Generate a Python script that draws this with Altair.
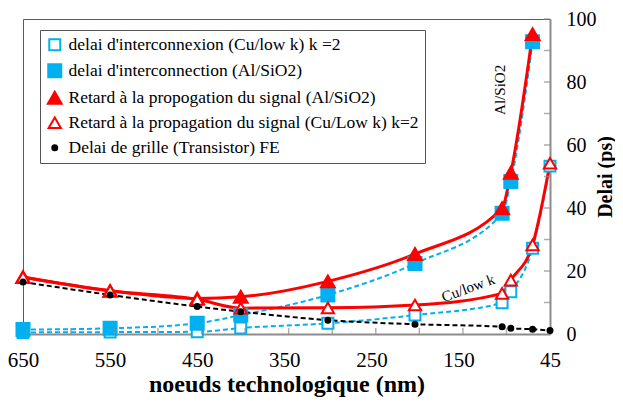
import altair as alt
import pandas as pd

FONT = "Liberation Serif"

series_names = [
    "delai d'interconnexion (Cu/low k) k =2",
    "delai d'interconnection (Al/SiO2)",
    "Retard à la propogation du signal (Al/SiO2)",
    "Retard à la propagation du signal (Cu/Low k) k=2",
    "Delai de grille (Transistor) FE",
]

x_cu = [650, 550, 450, 400, 300, 200, 100, 90, 65, 45]
x_al = [650, 550, 450, 400, 300, 200, 100, 90, 65]

inter_cu = [0.5, 0.6, 0.7, 1.9, 3.4, 6.0, 9.9, 13.4, 27.2, 53.3]
inter_al = [1.4, 1.8, 3.4, 6.0, 12.4, 22.4, 38.3, 48.4, 92.8]
retard_al = [18.1, 13.7, 11.3, 11.8, 16.7, 25.4, 39.9, 51.2, 95.2]
retard_cu = [18.0, 13.7, 11.0, 8.2, 8.3, 9.2, 12.9, 17.1, 28.3, 54.2]
grille = [16.5, 12.4, 8.7, 7.1, 4.4, 3.1, 2.3, 1.8, 1.5, 1.1]

x_labels = [650, 550, 450, 350, 250, 150, 45]
x_minor_ticks = [95, 145, 195, 245, 295, 345, 395, 445, 495, 545, 595, 645]
y_labels = [0, 10, 20, 30, 40, 50, 60, 70, 80, 90, 100]

annot_text = ["Al/SiO2", "Cu/low k"]
annot_x = [102, 139]
annot_y = [77.5, 14.6]
annot_angle = [270, 340]

BLUE = "#00b0f0"
RED = "#ff0000"

rows = []
for name, xs, ys in [
    (series_names[0], x_cu, inter_cu),
    (series_names[1], x_al, inter_al),
    (series_names[2], x_al, retard_al),
    (series_names[3], x_cu, retard_cu),
    (series_names[4], x_cu, grille),
]:
    for xv, yv in zip(xs, ys):
        rows.append({"series": name, "x": xv, "y": yv})
df = pd.DataFrame(rows)

xscale = alt.Scale(domain=[45, 650], reverse=True, nice=False, zero=False)
yscale = alt.Scale(domain=[0, 100], nice=False)

xaxis = alt.Axis(values=x_labels, ticks=False, tickSize=0, grid=False,
                 domainColor="#8c8c8c", domainWidth=2, labelFont=FONT,
                 labelFontSize=21, labelColor="#000", labelPadding=15,
                 labelFlush=False, title="noeuds technologique (nm)",
                 titleFont=FONT, titleFontSize=24, titleFontWeight="bold",
                 titleColor="#000", titlePadding=2)
yaxis = alt.Axis(values=y_labels, orient="right", ticks=False, tickSize=0,
                 grid=False, domainColor="#8c8c8c", domainWidth=2,
                 labelFont=FONT, labelFontSize=20, labelColor="#000",
                 labelPadding=16, title="Delai (ps)", titleFont=FONT,
                 titleFontSize=20, titleFontWeight="bold", titleColor="#000",
                 titleAngle=270, titleBaseline="alphabetic", titleAlign="center",
                 titleX=61, titleY=157.5)

X = alt.X("x:Q", scale=xscale, axis=xaxis)
Y = alt.Y("y:Q", scale=yscale, axis=yaxis)
Xn = alt.X("x:Q", scale=xscale)
Yn = alt.Y("y:Q", scale=yscale)

base = alt.Chart(df)

blue_lines = base.transform_filter(
    alt.FieldOneOfPredicate(field="series", oneOf=series_names[:2])
).mark_line(color=BLUE, strokeWidth=2, strokeDash=[5, 3], interpolate="monotone").encode(
    x=X, y=Y, detail="series:N", order=alt.Order("x:Q", sort="descending"))

red_lines = base.transform_filter(
    alt.FieldOneOfPredicate(field="series", oneOf=series_names[2:4])
).mark_line(color=RED, strokeWidth=3, interpolate="monotone").encode(
    x=Xn, y=Yn, detail="series:N", order=alt.Order("x:Q", sort="descending"))

black_line = base.transform_filter(
    alt.FieldEqualPredicate(field="series", equal=series_names[4])
).mark_line(color="#000", strokeWidth=2, strokeDash=[5, 3], interpolate="monotone").encode(
    x=Xn, y=Yn, order=alt.Order("x:Q", sort="descending"))

leg = alt.Legend(orient="none", legendX=17, legendY=11, title=None,
                 strokeColor="#555", fillColor="white", padding=6,
                 labelFont=FONT, labelFontSize=17.5, labelColor="#000",
                 rowPadding=5, labelOffset=5, symbolStrokeWidth=2,
                 labelLimit=500)

points = base.mark_point(filled=True, strokeWidth=2, opacity=1).encode(
    x=Xn, y=Yn,
    fill=alt.Fill("series:N", scale=alt.Scale(domain=series_names,
                  range=["white", BLUE, RED, "white", "#000"]), legend=leg),
    stroke=alt.Stroke("series:N", scale=alt.Scale(domain=series_names,
                  range=[BLUE, BLUE, RED, RED, "#000"]), legend=leg),
    shape=alt.Shape("series:N", scale=alt.Scale(domain=series_names,
                  range=["square", "square", "triangle-up", "triangle-up", "circle"]), legend=leg),
    size=alt.Size("series:N", scale=alt.Scale(type="ordinal", domain=series_names,
                  range=[120, 170, 190, 150, 25]), legend=leg),
)

tick_df = pd.DataFrame({"x": x_minor_ticks})
xticks = alt.Chart(tick_df).mark_tick(orient="vertical", size=6, thickness=1.5,
                                      color="#8c8c8c", yOffset=-3).encode(
    x=Xn, y=alt.datum(0, scale=yscale))

ytick_df = pd.DataFrame({"y": y_labels[1:]})
yticks = alt.Chart(ytick_df).mark_tick(orient="horizontal", size=6, thickness=1.5,
                                       color="#8c8c8c", xOffset=-3).encode(
    x=alt.datum(45, scale=xscale), y=Yn)

annot_df = pd.DataFrame({"t": annot_text, "x": annot_x, "y": annot_y, "a": annot_angle})
annots = alt.Chart(annot_df).mark_text(font=FONT, fontSize=15, color="#000").encode(
    x=Xn, y=Yn, text="t:N", angle=alt.Angle("a:Q", scale=None))

chart = alt.layer(blue_lines, red_lines, black_line, points, xticks, yticks, annots).properties(
    width=527, height=315,
    autosize=alt.AutoSizeParams(type="none"),
    padding={"left": 15, "top": 11, "right": 65, "bottom": 63},
).configure_view(stroke="#5a5a5a", strokeWidth=1)

chart.save("out.html", embed_options={"renderer": "svg", "actions": False})
